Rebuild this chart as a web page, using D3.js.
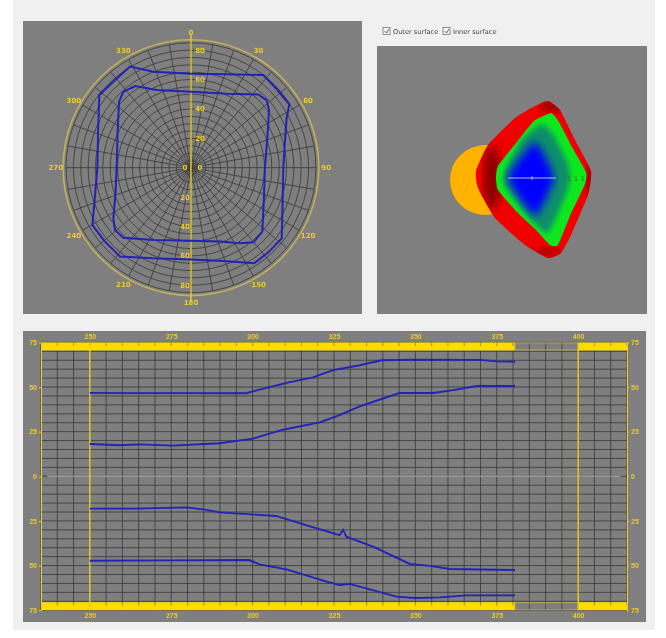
<!DOCTYPE html>
<html>
<head>
<meta charset="utf-8">
<script src="https://cdn.jsdelivr.net/npm/d3@7"></script>
<style>
  html, body { margin: 0; padding: 0; background: #fff; overflow: hidden; }
  svg { display: block; filter: blur(0.7px); font-family: "DejaVu Sans", sans-serif; }
</style>
</head>
<body>
<script>
// polar contours: angle (deg, clockwise from north), radius
const outerAngle = [0, 20.9, 38, 47.4, 57.2, 62.7, 74.5, 90, 110.4, 127.9, 137.6, 146.5, 160.9, 180, 202.6, 218.6, 229.3, 239.8, 254.1, 270, 291.2, 308.4, 319.1, 328.9, 338.6];
const outerRadius = [63.9, 68, 80, 79.1, 79.5, 73.2, 66.3, 62.8, 66.5, 78.2, 78, 78, 67.2, 62.4, 66.8, 77.4, 77.2, 77.6, 67.9, 63.7, 67.8, 79.6, 78.9, 80.3, 70.1];
const innerAngle = [0, 25.7, 42.6, 48.2, 53.5, 69, 90, 112.8, 131.9, 140.1, 147.1, 158.6, 180, 207.5, 224, 230.6, 236.9, 250.1, 270, 296.1, 312.5, 318.3, 325.6, 336.1];
const innerRadius = [51.7, 55.9, 67.7, 69, 66, 55.6, 50.3, 53.8, 65.2, 66.2, 61.3, 54, 49.7, 55.5, 66.2, 66.9, 63.1, 54.7, 50.6, 55.6, 66.4, 69.2, 67.3, 57.8];
const polarAngleLabels = [0, 30, 60, 90, 120, 150, 180, 210, 240, 270, 300, 330];
const polarRadiusLabels = [0, 20, 40, 60, 80];

// profile lines along the bottom chart
const lineAx = [250, 264, 280, 298, 300, 310.4, 318.6, 324.7, 332.9, 339.6, 350, 369.8, 375, 380.6];
const lineAy = [46.7, 46.6, 46.6, 46.5, 47.6, 52.3, 55.4, 59.5, 62.2, 65, 65.3, 65.2, 64.4, 64.2];
const lineBx = [250, 259.1, 265.3, 275.5, 289.9, 300.1, 309.3, 320.6, 326.7, 332.9, 339.6, 345.2, 355.5, 361.6, 368.8, 380.6];
const lineBy = [18.1, 17.4, 17.9, 17.2, 18.5, 21.1, 26.1, 30.2, 34.2, 39.2, 43.3, 46.7, 46.7, 48.3, 50.6, 50.6];
const lineCx = [250, 264.3, 279.6, 284.8, 289.9, 307.2, 316.4, 326.7, 327.8, 328.8, 337, 348.3, 354.5, 360.6, 380.6];
const lineCy = [-18.1, -18.1, -17.4, -18.5, -20.2, -22.2, -27.3, -32.9, -30, -33.8, -39.4, -49.1, -50.2, -51.9, -52.5];
const lineDx = [250, 275, 299, 302.1, 310.4, 322.7, 326.7, 329.8, 344.2, 349.8, 357.5, 365.7, 380.6];
const lineDy = [-47.3, -47.1, -46.9, -49.3, -52.1, -59, -60.9, -60.3, -67.4, -68.2, -67.8, -66.7, -66.7];
const xTickLabels = [250, 275, 300, 325, 350, 375, 400];
const yTickLabels = [-75, -50, -25, 0, 25, 50, 75];

// 3d view outlines, x and y relative to the axis origin
const redX = [40, 52, 67, 83, 80, 63, 53, 40, 17, -13, -30, -32, -20, 7, 27];
const redY = [-77, -68, -38, -7, 17, 57, 75, 80, 67, 40, 10, -7, -33, -60, -72];
const greenX = [43, 51, 64, 78, 77, 62, 50, 42, 28, 8, -10, -12, -10, 8, 26];
const greenY = [-65, -56, -31, -6, 6, 38, 67, 67, 52, 33, 12, 0, -12, -35, -57];
const tealX = [34, 46, 60, 62, 58, 40, 22, -3, -3, 14];
const tealY = [-54, -42, -14, 0, 16, 55, 40, 7, -7, -38];
const blueX = [0, 27, 46, 27];
const blueY = [0, -36, 0, 38];

const GRID = '#3f3f3f', GRAY = '#7f7f7f', GOLD = '#eccb2c', BLUE = '#2222b8';

const svg = d3.select('body').append('svg').attr('width', 666).attr('height', 638);
svg.append('rect').attr('x', 13).attr('y', 0).attr('width', 642).attr('height', 630).attr('fill', '#f0f0f0');

const defs = svg.append('defs');
defs.append('filter').attr('id', 'soft').append('feGaussianBlur').attr('stdDeviation', 4);
defs.append('filter').attr('id', 'tight').append('feGaussianBlur').attr('stdDeviation', 2.5);

function drawPolar() {
  svg.append('rect').attr('x', 23).attr('y', 21).attr('width', 339).attr('height', 293).attr('fill', GRAY);
  const g = svg.append('g').attr('transform', 'translate(191,167.7)');
  const r = d3.scaleLinear().domain([0, 100]).range([0, 147]);
  const toRad = d3.scaleLinear().domain([0, 360]).range([0, 2 * Math.PI]);

  g.selectAll('.ring').data(d3.range(5, 90, 5)).enter().append('circle')
    .attr('r', d => r(d)).attr('fill', 'none').attr('stroke', GRID).attr('stroke-width', 0.9);
  g.selectAll('.spoke').data(d3.range(0, 360, 10)).enter().append('line')
    .attr('x1', 0).attr('y1', 0)
    .attr('x2', d => r(85) * Math.sin(toRad(d)))
    .attr('y2', d => -r(85) * Math.cos(toRad(d)))
    .attr('stroke', GRID).attr('stroke-width', 0.9);

  g.append('circle').attr('r', r(87)).attr('fill', 'none').attr('stroke', '#c2b05a').attr('stroke-width', 1.6);
  g.append('line').attr('y1', -r(91)).attr('y2', r(91)).attr('stroke', GOLD).attr('stroke-width', 1.4);

  g.selectAll('.angle').data(polarAngleLabels).enter().append('text')
    .attr('x', d => r(92) * Math.sin(toRad(d)))
    .attr('y', d => -r(92) * Math.cos(toRad(d)) + 2.5)
    .attr('text-anchor', 'middle').attr('font-size', 7).attr('font-weight', 'bold').attr('fill', GOLD)
    .text(d => d);

  polarRadiusLabels.forEach(v => {
    g.append('text').attr('x', 9).attr('y', -r(v) + 2.5).attr('text-anchor', 'middle')
      .attr('font-size', 7).attr('font-weight', 'bold').attr('fill', GOLD).text(v);
    g.append('text').attr('x', -6).attr('y', r(v) + 2.5).attr('text-anchor', 'middle')
      .attr('font-size', 7).attr('font-weight', 'bold').attr('fill', GOLD).text(v);
  });

  const radial = d3.lineRadial().curve(d3.curveLinearClosed);
  [[outerAngle, outerRadius], [innerAngle, innerRadius]].forEach(([a, v]) => {
    g.append('path')
      .attr('d', radial(a.map((d, i) => [toRad(d), r(v[i])])))
      .attr('fill', 'none').attr('stroke', BLUE).attr('stroke-width', 2);
  });
}

function drawCheckboxes() {
  const names = ['Outer surface', 'Inner surface'];
  const x = d3.scaleOrdinal().domain(names).range([383, 443]);
  names.forEach(n => {
    svg.append('rect').attr('x', x(n)).attr('y', 27.5).attr('width', 7).attr('height', 7)
      .attr('fill', '#f6f6f6').attr('stroke', '#777').attr('stroke-width', 0.8);
    svg.append('path').attr('d', `M${x(n) + 1.5},31 l2,2 l2.5,-4`)
      .attr('fill', 'none').attr('stroke', '#444').attr('stroke-width', 0.8);
    svg.append('text').attr('x', x(n) + 10).attr('y', 34).attr('font-size', 6.6)
      .attr('fill', '#444').text(n);
  });
}

function drawView() {
  svg.append('rect').attr('x', 377).attr('y', 46).attr('width', 270).attr('height', 268).attr('fill', GRAY);
  const g = svg.append('g');
  const sx = d3.scaleLinear().domain([-100, 100]).range([408, 608]);
  const sy = d3.scaleLinear().domain([-100, 100]).range([78, 278]);
  const blob = (xs, ys) => d3.line().curve(d3.curveCardinalClosed.tension(0.55))(xs.map((d, i) => [sx(d), sy(ys[i])]));

  g.append('circle').attr('cx', sx(-23)).attr('cy', sy(2)).attr('r', 35).attr('fill', '#ffb300');

  defs.append('clipPath').attr('id', 'redClip').append('path').attr('d', blob(redX, redY));
  defs.append('clipPath').attr('id', 'greenClip').append('path').attr('d', blob(greenX, greenY));

  g.append('path').attr('d', blob(redX, redY)).attr('fill', '#f00000');
  const shade = g.append('g').attr('clip-path', 'url(#redClip)');
  shade.append('ellipse').attr('cx', sx(-16)).attr('cy', sy(0)).attr('rx', 9).attr('ry', 32)
    .attr('fill', '#8c0000').attr('filter', 'url(#soft)');
  shade.append('ellipse').attr('cx', sx(45)).attr('cy', sy(-72)).attr('rx', 14).attr('ry', 6)
    .attr('fill', '#9a0000').attr('filter', 'url(#soft)');
  shade.append('ellipse').attr('cx', sx(40)).attr('cy', sy(74)).attr('rx', 14).attr('ry', 5)
    .attr('fill', '#aa0000').attr('filter', 'url(#soft)');
  shade.append('ellipse').attr('cx', sx(82)).attr('cy', sy(2)).attr('rx', 4).attr('ry', 18)
    .attr('fill', '#900000').attr('filter', 'url(#soft)');

  g.append('path').attr('d', blob(greenX, greenY)).attr('fill', '#0ce81e');
  const inner = g.append('g').attr('clip-path', 'url(#greenClip)');
  inner.append('path').attr('d', blob(tealX, tealY)).attr('fill', '#0a8f6a').attr('filter', 'url(#tight)');
  inner.append('path').attr('d', blob(blueX, blueY)).attr('fill', '#0000ff').attr('filter', 'url(#soft)');

  g.append('line').attr('x1', sx(0)).attr('x2', sx(48)).attr('y1', sy(0)).attr('y2', sy(0))
    .attr('stroke', '#c8d8c8').attr('stroke-width', 0.9);
  g.append('line').attr('x1', sx(24)).attr('x2', sx(24)).attr('y1', sy(-2)).attr('y2', sy(2))
    .attr('stroke', '#c8d8c8').attr('stroke-width', 0.8);
  g.append('text').attr('x', sx(68)).attr('y', sy(3)).attr('text-anchor', 'middle')
    .attr('font-size', 7).attr('fill', '#1f7a1f').text('1 1 1');
}

function drawProfile() {
  svg.append('rect').attr('x', 23).attr('y', 331).attr('width', 623).attr('height', 291).attr('fill', GRAY);
  const x = d3.scaleLinear().domain([235, 415]).range([41, 627]);
  const y = d3.scaleLinear().domain([-75, 75]).range([610.2, 342.4]);

  const vGrid = d3.range(235, 416, 5), hGrid = d3.range(-75, 76, 5);
  const grid = svg.append('g').attr('stroke', GRID).attr('stroke-width', 0.9);
  grid.selectAll('.v').data(vGrid).enter().append('line')
    .attr('x1', d => x(d)).attr('x2', d => x(d)).attr('y1', y(75)).attr('y2', y(-75));
  grid.selectAll('.h').data(hGrid).enter().append('line')
    .attr('x1', x(235)).attr('x2', x(415)).attr('y1', d => y(d)).attr('y2', d => y(d));

  // zero line
  svg.append('line').attr('x1', x(237)).attr('x2', x(413)).attr('y1', y(0)).attr('y2', y(0))
    .attr('stroke', '#c4c4c4').attr('stroke-width', 0.8);

  // yellow coverage bands with a gap between the ends of the data and 400
  const bandH = y(70.5) - y(75);
  [y(75), y(-70.5)].forEach(top => {
    [[235, 380.6], [400, 415]].forEach(([a, b]) => {
      svg.append('rect').attr('x', x(a)).attr('y', top).attr('width', x(b) - x(a)).attr('height', bandH)
        .attr('fill', '#ffdc00');
    });
    svg.append('rect').attr('x', x(380.6)).attr('y', top + 0.5).attr('width', x(400) - x(380.6)).attr('height', bandH - 1)
      .attr('fill', 'none').attr('stroke', '#b3a95a').attr('stroke-width', 1);
    svg.selectAll(null).data(vGrid).enter().append('line')
      .attr('x1', d => x(d)).attr('x2', d => x(d)).attr('y1', top).attr('y2', top + bandH * 0.45)
      .attr('stroke', '#7d7a2a').attr('stroke-width', 0.8);
  });

  // axes
  const styleAxis = sel => {
    sel.selectAll('.domain').attr('stroke', GOLD);
    sel.selectAll('line').attr('stroke', GOLD);
    sel.selectAll('text').attr('fill', GOLD).attr('font-size', 7).attr('font-weight', 'bold');
  };
  const yFmt = d => Math.abs(d);
  svg.append('g').attr('transform', `translate(${x(235)},0)`)
    .call(d3.axisLeft(y).tickValues(yTickLabels).tickFormat(yFmt).tickSize(2).tickPadding(2).tickSizeOuter(0)).call(styleAxis);
  svg.append('g').attr('transform', `translate(${x(415)},0)`)
    .call(d3.axisRight(y).tickValues(yTickLabels).tickFormat(yFmt).tickSize(2).tickPadding(2).tickSizeOuter(0)).call(styleAxis);
  svg.append('g').attr('transform', `translate(0,${y(75) - 1})`)
    .call(d3.axisTop(x).tickValues(xTickLabels).tickSize(0).tickPadding(2)).call(styleAxis)
    .select('.domain').remove();
  svg.append('g').attr('transform', `translate(0,${y(-75) + 1})`)
    .call(d3.axisBottom(x).tickValues(xTickLabels).tickSize(0).tickPadding(2)).call(styleAxis)
    .select('.domain').remove();

  // limits at 250 and 400
  svg.selectAll('.limit').data([250, 400]).enter().append('line')
    .attr('x1', d => x(d)).attr('x2', d => x(d)).attr('y1', y(75)).attr('y2', y(-75))
    .attr('stroke', GOLD).attr('stroke-width', 1.5);

  const line = d3.line();
  [[lineAx, lineAy], [lineBx, lineBy], [lineCx, lineCy], [lineDx, lineDy]].forEach(([xs, ys]) => {
    svg.append('path')
      .attr('d', line(xs.map((d, i) => [x(d), y(ys[i])])))
      .attr('fill', 'none').attr('stroke', BLUE).attr('stroke-width', 1.9);
  });
}

drawPolar();
drawCheckboxes();
drawView();
drawProfile();
</script>
</body>
</html>
